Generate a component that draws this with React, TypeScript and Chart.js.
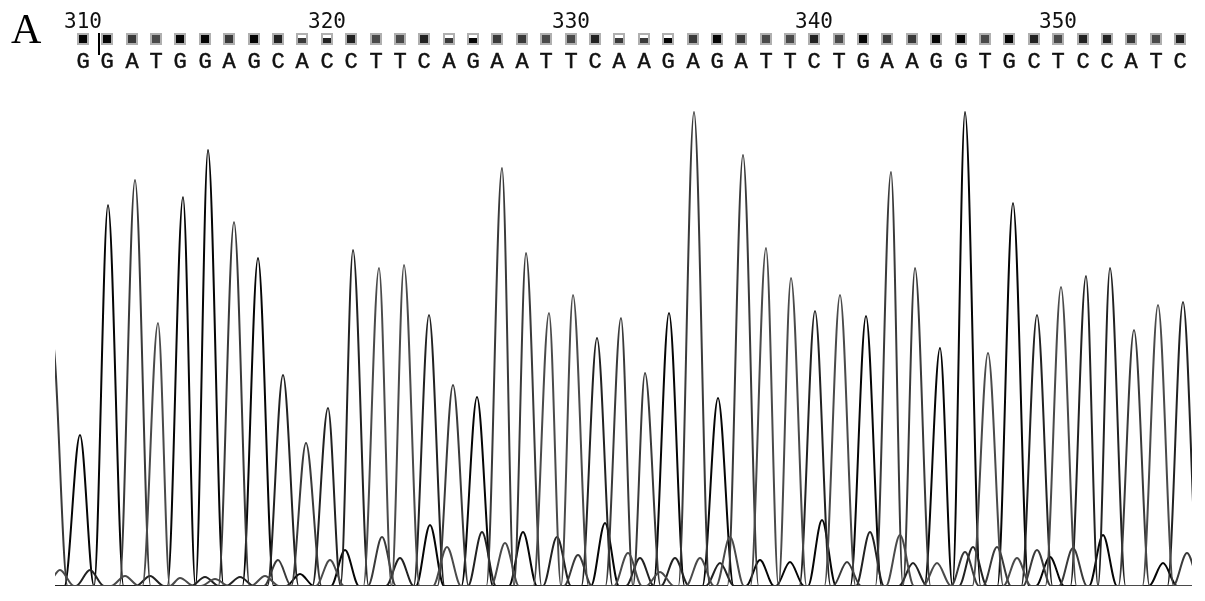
import React, { useEffect, useRef } from "react";
import { Chart, registerables } from "chart.js";

Chart.register(...registerables);

// ---- Data ----
const panelLabel = "A";
const baseCalls = [
  "G","G","A","T","G","G","A","G","C","A",
  "C","C","T","T","C","A","G","A","A","T",
  "T","C","A","A","G","A","G","A","T","T",
  "C","T","G","A","A","G","G","T","G","C",
  "T","C","C","A","T","C",
];
// scan position of every base call
const baseScans = [
  28, 52, 77, 101, 125, 150, 174, 199, 223, 247,
  272, 296, 321, 345, 369, 394, 418, 442, 467, 491,
  516, 540, 564, 589, 613, 638, 662, 686, 711, 735,
  759, 784, 808, 832, 857, 881, 906, 930, 954, 979,
  1003, 1028, 1052, 1076, 1101, 1125,
];
// quality value per base call (box fill)
const baseQuality = [
  40, 40, 40, 40, 40, 40, 40, 40, 40, 30,
  30, 40, 40, 40, 40, 30, 30, 40, 40, 40,
  40, 40, 30, 30, 30, 40, 40, 40, 40, 40,
  40, 40, 40, 40, 40, 40, 40, 40, 40, 40,
  40, 40, 40, 40, 40, 40,
];
const positionLabels = ["310", "320", "330", "340", "350"];
const positionBaseIndex = [0, 10, 20, 30, 40];
const cursorScan = 44;

// primary peak of every base call: scan position and signal height
const peakScans = [
  25, 53, 80, 103, 128, 153, 179, 203, 228, 251,
  273, 298, 324, 349, 374, 398, 422, 447, 471, 494,
  518, 542, 566, 590, 614, 639, 663, 688, 711, 736,
  760, 785, 811, 836, 860, 885, 910, 933, 958, 982,
  1006, 1031, 1055, 1079, 1103, 1128,
];
const peakHeights = [
  151, 381, 406, 263, 389, 436, 364, 328, 211, 143,
  178, 336, 318, 321, 271, 201, 189, 418, 333, 273,
  291, 248, 268, 213, 273, 474, 188, 431, 338, 308,
  275, 291, 270, 414, 318, 238, 474, 233, 383, 271,
  299, 310, 318, 256, 281, 284,
];

// secondary (background) peaks
const extraChannels = [
  "A","T","C","A","T","G","A","C","G","T",
  "C","T","G","C","A","G","T","C","T","C",
  "T","C","T","G","G","G","A","C","T","C",
  "T","A","C","A","T","A","G","A","G","G",
  "A","T","C","T","C","T","C","T","G",
];
const extraScans = [
  -3, 5, 35, 223, 275, 290, 327, 345, 375, 392,
  427, 450, 468, 502, 523, 550, 573, 585, 605, 620,
  645, 665, 675, 705, 735, 767, 792, 815, 845, 858,
  882, 910, 918, 942, 962, 982, 995, 1018, 1048, 1108,
  1132, 70, 95, 125, 150, 160, 185, 210, 245,
];
const extraHeights = [
  250, 16, 16, 26, 26, 36, 49, 28, 61, 39,
  54, 43, 54, 49, 31, 63, 33, 28, 14, 28,
  28, 23, 49, 26, 24, 66, 24, 54, 51, 23,
  23, 34, 39, 39, 28, 36, 29, 38, 51, 23,
  33, 10, 10, 8, 9, 7, 9, 10, 12,
];

// ---- Styles ----
const channelColor: Record<string, string> = {
  G: "#050505",
  C: "#222222",
  A: "#3a3a3a",
  T: "#4a4a4a",
};
const PEAK_HALF_WIDTH = 15.6;
const EXTRA_HALF_WIDTH = 14;

type Peak = { s: number; h: number; w: number };

function buildTrace(ch: string) {
  const peaks: Peak[] = [];
  baseCalls.forEach((b, i) => {
    if (b === ch) peaks.push({ s: peakScans[i], h: peakHeights[i], w: PEAK_HALF_WIDTH });
  });
  extraChannels.forEach((c, i) => {
    if (c === ch) peaks.push({ s: extraScans[i], h: extraHeights[i], w: i === 0 ? PEAK_HALF_WIDTH : EXTRA_HALF_WIDTH });
  });
  peaks.sort((a, b) => a.s - b.s);
  const pts: { x: number; y: number }[] = [];
  pts.push({ x: -20, y: 0 });
  peaks.forEach((p, k) => {
    if (k === 0) {
      pts.push({ x: p.s - p.w, y: 0 });
    } else {
      const prev = peaks[k - 1];
      const rf = prev.s + prev.w;
      const lf = p.s - p.w;
      if (rf <= lf) {
        pts.push({ x: rf, y: 0 });
        pts.push({ x: lf, y: 0 });
      } else {
        pts.push({ x: (rf + lf) / 2, y: 0 });
      }
    }
    pts.push({ x: p.s, y: p.h });
    if (k === peaks.length - 1) pts.push({ x: p.s + p.w, y: 0 });
  });
  pts.push({ x: 1160, y: 0 });
  return pts;
}

const headerPlugin = {
  id: "seqHeader",
  afterDraw(chart: any) {
    const ctx: CanvasRenderingContext2D = chart.ctx;
    const xs = chart.scales.x;
    ctx.save();
    // panel label
    ctx.fillStyle = "#000";
    ctx.font = "42px 'Liberation Serif', 'DejaVu Serif', serif";
    ctx.textAlign = "left";
    ctx.textBaseline = "alphabetic";
    ctx.fillText(panelLabel, 11, 43);

    // position numbers
    ctx.font = "21px 'DejaVu Sans Mono', monospace";
    ctx.textAlign = "center";
    ctx.fillStyle = "#111";
    positionLabels.forEach((lab, k) => {
      const x = xs.getPixelForValue(baseScans[positionBaseIndex[k]]);
      ctx.fillText(lab, x, 28);
    });

    // quality boxes and base letters
    baseCalls.forEach((b, i) => {
      const x = Math.round(xs.getPixelForValue(baseScans[i]));
      ctx.fillStyle = "#b0b0b0";
      ctx.fillRect(x - 6, 33, 12, 12);
      ctx.fillStyle = channelColor[b];
      ctx.fillRect(x - 4, 35, 8, 8);
      const frac = Math.min(1, baseQuality[i] / 40);
      if (frac < 1) {
        ctx.fillStyle = "#ffffff";
        ctx.fillRect(x - 4, 35, 8, Math.round(8 * (1 - frac) + 1));
      }
    });
    ctx.font = "22px 'Liberation Mono', 'DejaVu Sans Mono', monospace";
    ctx.fillStyle = "#111";
    ctx.strokeStyle = "#111";
    ctx.lineWidth = 0.5;
    baseCalls.forEach((b, i) => {
      const x = xs.getPixelForValue(baseScans[i]);
      ctx.fillText(b, x, 68);
      ctx.strokeText(b, x, 68);
    });

    // cursor
    const cx = Math.round(xs.getPixelForValue(cursorScan));
    ctx.fillStyle = "#000";
    ctx.fillRect(cx - 1, 33, 2, 22);
    ctx.restore();
  },
};

export default function App() {
  const ref = useRef<HTMLCanvasElement>(null);
  useEffect(() => {
    if (!ref.current) return;
    const order = ["T", "A", "C", "G"];
    const chart = new Chart(ref.current, {
      type: "line",
      data: {
        datasets: order.map((ch) => ({
          label: ch,
          data: buildTrace(ch),
          borderColor: channelColor[ch],
          borderWidth: 2,
          pointRadius: 0,
          fill: false,
          cubicInterpolationMode: "monotone" as const,
        })),
      },
      options: {
        responsive: false,
        animation: false,
        events: [],
        layout: { padding: { left: 55, right: 13, top: 106, bottom: 15 } },
        plugins: { legend: { display: false }, tooltip: { enabled: false }, title: { display: false } },
        scales: {
          x: { type: "linear", display: false, min: 0, max: 1137 },
          y: { type: "linear", display: false, min: 0, max: 480 },
        },
      },
      plugins: [headerPlugin],
    });
    return () => chart.destroy();
  }, []);
  return (
    <div style={{ position: "absolute", left: 0, top: 0, width: 1205, height: 601, background: "#fff" }}>
      <canvas ref={ref} width={1205} height={601} style={{ display: "block", width: 1205, height: 601 }} />
    </div>
  );
}
